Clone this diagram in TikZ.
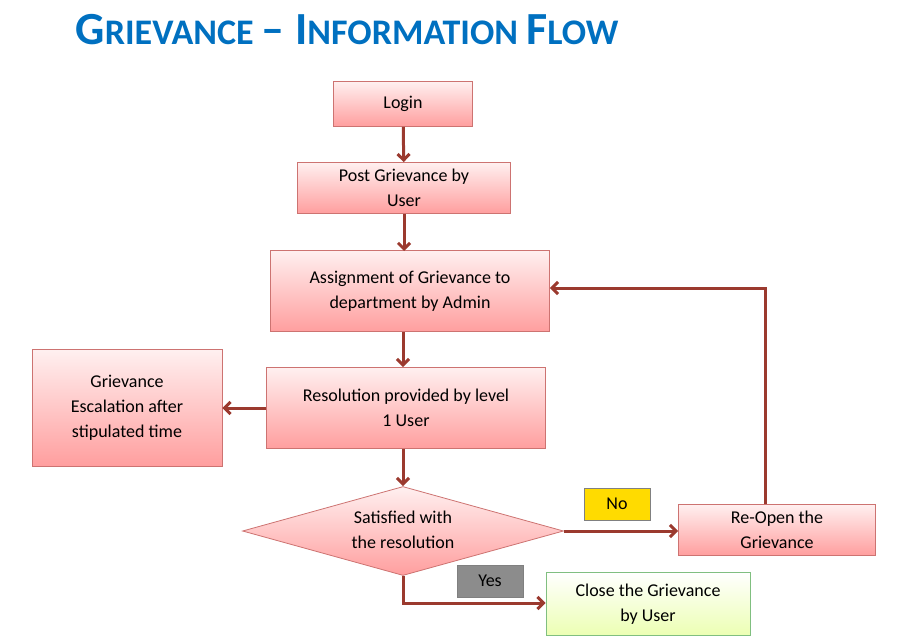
\documentclass[tikz,border=0pt]{standalone}
\usepackage{fontspec}
\setmainfont{Carlito}
\usetikzlibrary{shapes.geometric,arrows.meta}
\definecolor{arr}{HTML}{9B3A2F}
\definecolor{bord}{HTML}{C0504D}
\definecolor{ttl}{HTML}{0070C0}
\tikzset{
 box/.style={draw=bord!80, line width=0.8pt, top color=red!6, bottom color=red!38!white, align=center, font=\fontsize{18}{25}\selectfont, inner sep=0pt, drop shadow/.style={}},
 con/.style={draw=arr, line width=3pt, -{Straight Barb[length=6pt,width=12pt]}},
 lab/.style={draw=black!50, font=\fontsize{18}{20}\selectfont, minimum width=66pt, minimum height=32pt, inner sep=0pt}
}
\begin{document}
\begin{tikzpicture}[x=1pt,y=-1pt]
\useasboundingbox (0,0) rectangle (901,642);
\node[anchor=west, text=ttl, font=\fontsize{46}{50}\selectfont\bfseries] at (72,30) {G\fontsize{36}{40}\selectfont RIEVANCE \fontsize{46}{50}\selectfont– I\fontsize{36}{40}\selectfont NFORMATION \fontsize{46}{50}\selectfont F\fontsize{36}{40}\selectfont LOW};
\node[box, minimum width=139pt, minimum height=45pt] (login) at (403,104) {Login};
\node[box, minimum width=213pt, minimum height=51pt] (post) at (404,188) {Post Grievance by\\User};
\node[box, minimum width=279pt, minimum height=81pt] (assign) at (410,291) {Assignment of Grievance to\\department by Admin};
\node[box, minimum width=279pt, minimum height=81pt] (res) at (406,408) {Resolution provided by level\\1 User};
\node[box, minimum width=190pt, minimum height=117pt] (esc) at (127,408) {Grievance\\Escalation after\\stipulated time};
\node[box, diamond, aspect=3.6, minimum width=321pt, minimum height=89pt] (sat) at (403,531) {};
\node[align=center, font=\fontsize{18}{25}\selectfont] at (403,530) {Satisfied with\\the resolution};
\node[box, minimum width=197pt, minimum height=51pt] (reopen) at (777,530) {Re-Open the\\Grievance};
\node[box, draw=green!50!black!50, top color=white, bottom color=green!25!yellow!30, minimum width=204pt, minimum height=63pt] (close) at (648,604) {Close the Grievance\\by User};
\node[lab, fill=orange!20!yellow!90!orange] (no) at (617,504) {No};
\node[lab, fill=black!45] (yes) at (490,581) {Yes};
\draw[con] (login) -- (post);
\draw[con] (post) -- (404,251);
\draw[con] (assign.south -| 403,0) -- (res.north -| 403,0);
\draw[con] (res.south -| 403,0) -- (sat.north);
\draw[con] (res) -- (esc);
\draw[con] (sat.east) -- (reopen.west |- sat.east);
\coordinate (c1) at (765,288);
\draw[con] (reopen.north -| c1) -- (c1) -- (assign.east |- c1);
\coordinate (c2) at (403,603);
\draw[con] (sat.south) -- (c2) -- (close.west |- c2);
\end{tikzpicture}
\end{document}
